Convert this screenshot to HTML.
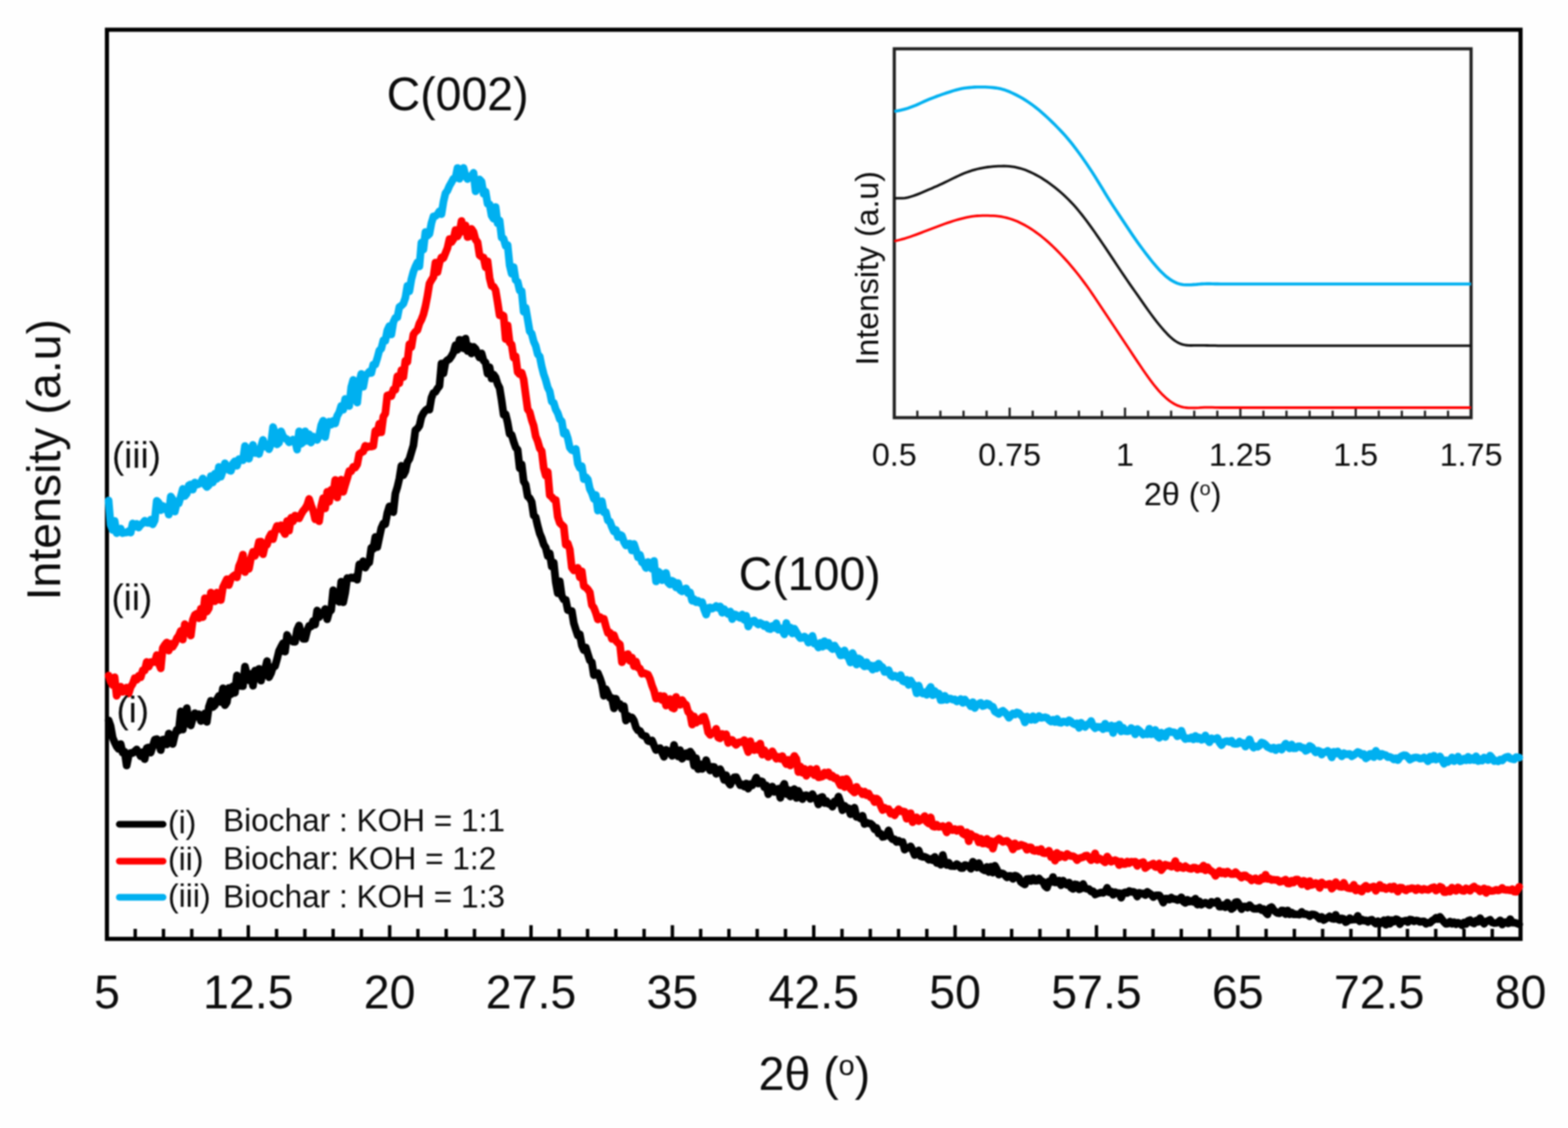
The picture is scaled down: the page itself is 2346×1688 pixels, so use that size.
<!DOCTYPE html>
<html lang="en"><head><meta charset="utf-8"><title>XRD patterns</title>
<style>
html,body{margin:0;padding:0;background:#fff;}
body{width:2346px;height:1688px;overflow:hidden;}
svg{display:block;filter:blur(0.8px);}
text{font-family:"Liberation Sans",Arial,Helvetica,sans-serif;fill:#0c0c0c;}
</style></head><body>
<svg width="2346" height="1688" viewBox="0 0 2346 1688">
<rect width="2346" height="1688" fill="#fefefe"/>

<rect x="160.0" y="44.5" width="2115.0" height="1360.5" fill="none" stroke="#000" stroke-width="6.2"/>
<path d="M202.3,1405.0 v-15 M244.6,1405.0 v-15 M286.9,1405.0 v-15 M329.2,1405.0 v-15 M371.5,1405.0 v-20.5 M413.8,1405.0 v-15 M456.1,1405.0 v-15 M498.4,1405.0 v-15 M540.7,1405.0 v-15 M583.0,1405.0 v-20.5 M625.3,1405.0 v-15 M667.6,1405.0 v-15 M709.9,1405.0 v-15 M752.2,1405.0 v-15 M794.5,1405.0 v-20.5 M836.8,1405.0 v-15 M879.1,1405.0 v-15 M921.4,1405.0 v-15 M963.7,1405.0 v-15 M1006.0,1405.0 v-20.5 M1048.3,1405.0 v-15 M1090.6,1405.0 v-15 M1132.9,1405.0 v-15 M1175.2,1405.0 v-15 M1217.5,1405.0 v-20.5 M1259.8,1405.0 v-15 M1302.1,1405.0 v-15 M1344.4,1405.0 v-15 M1386.7,1405.0 v-15 M1429.0,1405.0 v-20.5 M1471.3,1405.0 v-15 M1513.6,1405.0 v-15 M1555.9,1405.0 v-15 M1598.2,1405.0 v-15 M1640.5,1405.0 v-20.5 M1682.8,1405.0 v-15 M1725.1,1405.0 v-15 M1767.4,1405.0 v-15 M1809.7,1405.0 v-15 M1852.0,1405.0 v-20.5 M1894.3,1405.0 v-15 M1936.6,1405.0 v-15 M1978.9,1405.0 v-15 M2021.2,1405.0 v-15 M2063.5,1405.0 v-20.5 M2105.8,1405.0 v-15 M2148.1,1405.0 v-15 M2190.4,1405.0 v-15 M2232.7,1405.0 v-15" stroke="#000" stroke-width="5.1" fill="none"/>
<g fill="none" stroke-linejoin="round" stroke-linecap="round" stroke-width="11.5">
<path stroke="#00b0f0" d="M162.5,749.0 L165.5,785.2 L168.5,793.1 L171.5,779.5 L174.5,797.9 L177.5,796.0 L180.5,791.0 L183.5,797.8 L186.5,797.0 L189.5,796.8 L192.5,794.8 L195.5,797.0 L198.5,783.3 L201.5,788.4 L204.5,783.9 L207.5,789.4 L210.5,785.4 L213.5,783.0 L216.5,779.3 L219.5,782.2 L222.5,782.5 L225.5,777.7 L228.5,784.7 L231.5,778.7 L234.5,749.4 L237.5,752.4 L240.5,763.5 L243.5,757.0 L246.5,761.9 L249.5,758.4 L252.5,770.1 L255.5,743.0 L258.5,747.5 L261.5,765.6 L264.5,753.4 L267.5,753.2 L270.5,743.2 L273.5,731.6 L276.5,742.3 L279.5,738.6 L282.5,726.2 L285.5,724.9 L288.5,732.7 L291.5,722.1 L294.5,725.3 L297.5,724.3 L300.5,721.6 L303.5,716.0 L306.5,725.3 L309.5,728.8 L312.5,726.0 L315.5,712.4 L318.5,721.9 L321.5,708.8 L324.5,716.7 L327.5,698.8 L330.5,713.3 L333.5,704.5 L336.5,693.2 L339.5,697.7 L342.5,703.4 L345.5,704.7 L348.5,693.5 L351.5,690.2 L354.5,697.1 L357.5,687.0 L360.5,688.0 L363.5,688.8 L366.5,667.4 L369.5,680.8 L372.5,686.5 L375.5,671.8 L378.5,665.8 L381.5,677.9 L384.5,674.4 L387.5,679.4 L390.5,668.4 L393.5,658.2 L396.5,668.5 L399.5,664.8 L402.5,672.3 L405.5,664.4 L408.5,639.1 L411.5,648.6 L414.5,664.9 L417.5,662.5 L420.5,645.4 L423.5,653.0 L426.5,656.1 L429.5,657.3 L432.5,662.0 L435.5,660.4 L438.5,657.8 L441.5,659.3 L444.5,672.8 L447.5,645.5 L450.5,664.2 L453.5,661.6 L456.5,645.5 L459.5,659.8 L462.5,649.7 L465.5,662.3 L468.5,653.3 L471.5,657.0 L474.5,658.4 L477.5,651.8 L480.5,636.6 L483.5,629.5 L486.5,654.0 L489.5,637.4 L492.5,630.9 L495.5,635.5 L498.5,629.8 L501.5,633.7 L504.5,622.3 L507.5,617.2 L510.5,607.4 L513.5,613.1 L516.5,597.1 L519.5,605.8 L522.5,607.6 L525.5,579.3 L528.5,568.6 L531.5,594.2 L534.5,602.4 L537.5,572.5 L540.5,559.6 L543.5,578.8 L546.5,562.4 L549.5,559.7 L552.5,556.2 L555.5,558.2 L558.5,545.7 L561.5,545.4 L564.5,536.1 L567.5,524.6 L570.5,521.6 L573.5,509.6 L576.5,509.8 L579.5,494.4 L582.5,488.0 L585.5,500.5 L588.5,482.2 L591.5,475.6 L594.5,474.8 L597.5,459.5 L600.5,457.3 L603.5,454.4 L606.5,445.6 L609.5,427.8 L612.5,435.9 L615.5,418.0 L618.5,406.8 L621.5,399.0 L624.5,392.8 L627.5,398.7 L630.5,363.1 L633.5,373.4 L636.5,347.3 L639.5,352.7 L642.5,350.0 L645.5,333.9 L648.5,324.0 L651.5,323.4 L654.5,320.9 L657.5,316.0 L660.5,320.5 L663.5,301.8 L666.5,289.1 L669.5,285.1 L672.5,278.0 L675.5,272.8 L678.5,267.4 L681.5,266.3 L684.5,251.4 L687.5,267.6 L690.5,256.5 L693.5,251.2 L696.5,263.1 L699.5,267.9 L702.5,263.7 L705.5,263.7 L708.5,258.6 L711.5,286.2 L714.5,278.0 L717.5,268.6 L720.5,271.9 L723.5,290.1 L726.5,286.7 L729.5,304.9 L732.5,305.8 L735.5,322.7 L738.5,327.3 L741.5,309.8 L744.5,334.3 L747.5,330.0 L750.5,355.7 L753.5,357.2 L756.5,368.0 L759.5,366.7 L762.5,396.9 L765.5,409.5 L768.5,399.7 L771.5,419.0 L774.5,421.6 L777.5,434.6 L780.5,435.7 L783.5,466.6 L786.5,460.5 L789.5,478.0 L792.5,495.8 L795.5,499.2 L798.5,510.9 L801.5,517.6 L804.5,529.9 L807.5,533.4 L810.5,548.3 L813.5,560.0 L816.5,568.7 L819.5,579.7 L822.5,585.8 L825.5,600.9 L828.5,602.9 L831.5,612.8 L834.5,618.3 L837.5,627.3 L840.5,630.4 L843.5,649.2 L846.5,646.7 L849.5,655.8 L852.5,669.9 L855.5,673.5 L858.5,674.7 L861.5,671.8 L864.5,693.8 L867.5,700.4 L870.5,697.6 L873.5,717.0 L876.5,713.9 L879.5,717.4 L882.5,731.7 L885.5,737.6 L888.5,746.5 L891.5,740.8 L894.5,764.1 L897.5,752.5 L900.5,749.9 L903.5,766.5 L906.5,766.5 L909.5,778.9 L912.5,780.6 L915.5,788.7 L918.5,795.3 L921.5,793.0 L924.5,803.8 L927.5,800.2 L930.5,801.7 L933.5,810.9 L936.5,816.3 L939.5,814.0 L942.5,813.4 L945.5,823.8 L948.5,814.1 L951.5,823.0 L954.5,833.9 L957.5,830.3 L960.5,841.4 L963.5,843.3 L966.5,849.9 L969.5,840.9 L972.5,843.8 L975.5,851.3 L978.5,839.4 L981.5,870.0 L984.5,855.1 L987.5,857.5 L990.5,868.2 L993.5,865.2 L996.5,857.3 L999.5,871.8 L1002.5,874.8 L1005.5,869.0 L1008.5,870.9 L1011.5,879.0 L1014.5,872.4 L1017.5,882.9 L1020.5,884.9 L1023.5,882.7 L1026.5,880.4 L1029.5,887.8 L1032.5,886.6 L1035.5,898.9 L1038.5,896.7 L1041.5,901.2 L1044.5,899.1 L1047.5,902.3 L1050.5,900.9 L1053.5,912.0 L1056.5,919.7 L1059.5,910.0 L1062.5,909.0 L1065.5,910.8 L1068.5,909.4 L1071.5,907.0 L1074.5,909.8 L1077.5,907.5 L1080.5,916.9 L1083.5,911.5 L1086.5,916.0 L1089.5,919.0 L1092.5,915.1 L1095.5,926.5 L1098.5,919.3 L1101.5,920.3 L1104.5,923.1 L1107.5,924.7 L1110.5,919.6 L1113.5,927.5 L1116.5,921.5 L1119.5,937.5 L1122.5,931.7 L1125.5,929.5 L1128.5,928.6 L1131.5,932.1 L1134.5,934.5 L1137.5,932.2 L1140.5,933.8 L1143.5,937.1 L1146.5,934.7 L1149.5,940.7 L1152.5,941.4 L1155.5,936.7 L1158.5,939.8 L1161.5,932.5 L1164.5,942.3 L1167.5,939.9 L1170.5,943.2 L1173.5,949.3 L1176.5,932.3 L1179.5,944.3 L1182.5,939.0 L1185.5,947.9 L1188.5,940.8 L1191.5,946.1 L1194.5,951.0 L1197.5,954.9 L1200.5,954.6 L1203.5,952.5 L1206.5,954.6 L1209.5,961.7 L1212.5,958.5 L1215.5,951.6 L1218.5,963.2 L1221.5,963.7 L1224.5,969.0 L1227.5,961.9 L1230.5,967.8 L1233.5,959.4 L1236.5,966.0 L1239.5,961.8 L1242.5,968.2 L1245.5,971.4 L1248.5,965.9 L1251.5,970.9 L1254.5,973.9 L1257.5,980.8 L1260.5,980.4 L1263.5,973.2 L1266.5,981.3 L1269.5,984.0 L1272.5,991.5 L1275.5,977.2 L1278.5,984.1 L1281.5,994.5 L1284.5,985.3 L1287.5,987.0 L1290.5,994.7 L1293.5,997.3 L1296.5,991.0 L1299.5,996.9 L1302.5,995.9 L1305.5,1002.1 L1308.5,996.1 L1311.5,1000.4 L1314.5,993.0 L1317.5,996.6 L1320.5,998.4 L1323.5,1005.4 L1326.5,1005.6 L1329.5,1002.7 L1332.5,1010.8 L1335.5,1012.9 L1338.5,1011.0 L1341.5,1012.3 L1344.5,1014.5 L1347.5,1010.2 L1350.5,1018.9 L1353.5,1020.2 L1356.5,1017.2 L1359.5,1025.0 L1362.5,1018.3 L1365.5,1023.4 L1368.5,1025.8 L1371.5,1037.6 L1374.5,1025.9 L1377.5,1035.8 L1380.5,1037.8 L1383.5,1035.9 L1386.5,1039.7 L1389.5,1032.3 L1392.5,1028.0 L1395.5,1040.3 L1398.5,1033.9 L1401.5,1038.9 L1404.5,1037.7 L1407.5,1047.8 L1410.5,1047.6 L1413.5,1041.2 L1416.5,1047.3 L1419.5,1045.2 L1422.5,1045.4 L1425.5,1047.1 L1428.5,1046.6 L1431.5,1049.6 L1434.5,1048.3 L1437.5,1046.1 L1440.5,1051.8 L1443.5,1046.8 L1446.5,1051.0 L1449.5,1052.3 L1452.5,1057.0 L1455.5,1050.7 L1458.5,1059.5 L1461.5,1054.8 L1464.5,1053.2 L1467.5,1051.7 L1470.5,1056.7 L1473.5,1055.6 L1476.5,1052.6 L1479.5,1053.6 L1482.5,1056.8 L1485.5,1057.6 L1488.5,1064.7 L1491.5,1066.4 L1494.5,1068.4 L1497.5,1065.2 L1500.5,1063.7 L1503.5,1066.2 L1506.5,1069.2 L1509.5,1074.1 L1512.5,1070.8 L1515.5,1067.6 L1518.5,1069.2 L1521.5,1066.1 L1524.5,1067.2 L1527.5,1070.4 L1530.5,1072.7 L1533.5,1081.1 L1536.5,1072.2 L1539.5,1076.0 L1542.5,1077.3 L1545.5,1071.8 L1548.5,1077.3 L1551.5,1074.8 L1554.5,1071.5 L1557.5,1074.2 L1560.5,1073.8 L1563.5,1073.3 L1566.5,1074.2 L1569.5,1077.4 L1572.5,1079.8 L1575.5,1077.0 L1578.5,1080.6 L1581.5,1075.8 L1584.5,1081.2 L1587.5,1081.7 L1590.5,1079.7 L1593.5,1080.0 L1596.5,1081.3 L1599.5,1077.9 L1602.5,1079.9 L1605.5,1082.7 L1608.5,1084.3 L1611.5,1082.3 L1614.5,1089.3 L1617.5,1081.5 L1620.5,1085.8 L1623.5,1087.8 L1626.5,1084.3 L1629.5,1083.3 L1632.5,1079.0 L1635.5,1086.6 L1638.5,1089.7 L1641.5,1087.5 L1644.5,1088.2 L1647.5,1087.7 L1650.5,1091.2 L1653.5,1082.9 L1656.5,1089.7 L1659.5,1089.3 L1662.5,1085.6 L1665.5,1096.9 L1668.5,1086.6 L1671.5,1087.7 L1674.5,1084.3 L1677.5,1094.6 L1680.5,1089.0 L1683.5,1094.1 L1686.5,1094.4 L1689.5,1093.8 L1692.5,1089.4 L1695.5,1091.8 L1698.5,1098.9 L1701.5,1091.0 L1704.5,1093.2 L1707.5,1096.0 L1710.5,1099.3 L1713.5,1097.7 L1716.5,1098.8 L1719.5,1090.5 L1722.5,1098.8 L1725.5,1097.9 L1728.5,1092.3 L1731.5,1101.5 L1734.5,1104.2 L1737.5,1096.3 L1740.5,1098.9 L1743.5,1102.9 L1746.5,1095.3 L1749.5,1094.1 L1752.5,1095.8 L1755.5,1095.8 L1758.5,1096.8 L1761.5,1101.8 L1764.5,1100.0 L1767.5,1093.5 L1770.5,1102.0 L1773.5,1106.0 L1776.5,1104.8 L1779.5,1105.2 L1782.5,1103.5 L1785.5,1106.4 L1788.5,1101.2 L1791.5,1105.7 L1794.5,1103.6 L1797.5,1107.1 L1800.5,1106.0 L1803.5,1100.5 L1806.5,1107.3 L1809.5,1110.8 L1812.5,1104.8 L1815.5,1106.1 L1818.5,1105.7 L1821.5,1104.3 L1824.5,1111.1 L1827.5,1115.2 L1830.5,1110.8 L1833.5,1109.5 L1836.5,1108.9 L1839.5,1110.3 L1842.5,1108.4 L1845.5,1112.8 L1848.5,1113.2 L1851.5,1113.0 L1854.5,1109.8 L1857.5,1112.0 L1860.5,1112.0 L1863.5,1117.3 L1866.5,1113.3 L1869.5,1106.4 L1872.5,1114.3 L1875.5,1118.9 L1878.5,1116.7 L1881.5,1117.6 L1884.5,1115.7 L1887.5,1111.1 L1890.5,1112.2 L1893.5,1114.4 L1896.5,1117.9 L1899.5,1119.3 L1902.5,1120.6 L1905.5,1118.7 L1908.5,1122.6 L1911.5,1119.4 L1914.5,1118.7 L1917.5,1121.9 L1920.5,1117.0 L1923.5,1112.8 L1926.5,1116.8 L1929.5,1120.1 L1932.5,1114.1 L1935.5,1119.8 L1938.5,1119.8 L1941.5,1117.0 L1944.5,1116.7 L1947.5,1119.2 L1950.5,1119.1 L1953.5,1123.6 L1956.5,1122.1 L1959.5,1116.2 L1962.5,1117.9 L1965.5,1122.2 L1968.5,1126.0 L1971.5,1123.3 L1974.5,1124.3 L1977.5,1129.2 L1980.5,1125.7 L1983.5,1125.6 L1986.5,1123.6 L1989.5,1126.6 L1992.5,1133.5 L1995.5,1125.0 L1998.5,1128.0 L2001.5,1124.5 L2004.5,1128.2 L2007.5,1131.9 L2010.5,1127.1 L2013.5,1128.8 L2016.5,1128.5 L2019.5,1128.2 L2022.5,1131.8 L2025.5,1130.1 L2028.5,1127.7 L2031.5,1125.4 L2034.5,1126.6 L2037.5,1129.9 L2040.5,1128.2 L2043.5,1134.9 L2046.5,1133.1 L2049.5,1128.3 L2052.5,1128.1 L2055.5,1133.0 L2058.5,1123.6 L2061.5,1127.8 L2064.5,1132.2 L2067.5,1128.2 L2070.5,1129.4 L2073.5,1130.1 L2076.5,1133.0 L2079.5,1132.6 L2082.5,1134.0 L2085.5,1136.5 L2088.5,1134.7 L2091.5,1137.6 L2094.5,1133.3 L2097.5,1131.3 L2100.5,1130.1 L2103.5,1130.5 L2106.5,1133.1 L2109.5,1136.8 L2112.5,1135.1 L2115.5,1133.9 L2118.5,1133.4 L2121.5,1133.9 L2124.5,1135.3 L2127.5,1135.1 L2130.5,1133.4 L2133.5,1135.8 L2136.5,1139.2 L2139.5,1132.3 L2142.5,1136.3 L2145.5,1130.9 L2148.5,1136.7 L2151.5,1134.8 L2154.5,1132.1 L2157.5,1137.2 L2160.5,1142.9 L2163.5,1137.8 L2166.5,1140.2 L2169.5,1137.7 L2172.5,1133.5 L2175.5,1139.1 L2178.5,1137.0 L2181.5,1132.2 L2184.5,1139.2 L2187.5,1138.2 L2190.5,1135.3 L2193.5,1137.8 L2196.5,1132.5 L2199.5,1137.6 L2202.5,1134.5 L2205.5,1137.5 L2208.5,1131.8 L2211.5,1139.0 L2214.5,1136.1 L2217.5,1138.3 L2220.5,1133.6 L2223.5,1134.6 L2226.5,1137.5 L2229.5,1130.7 L2232.5,1134.2 L2235.5,1139.0 L2238.5,1138.2 L2241.5,1139.4 L2244.5,1136.6 L2247.5,1138.0 L2250.5,1134.8 L2253.5,1133.0 L2256.5,1132.2 L2259.5,1134.9 L2262.5,1135.8 L2265.5,1136.5 L2268.5,1132.9 L2273.0,1133.7"/>
<path stroke="#ff0000" d="M162.5,1011.0 L165.5,1019.9 L168.5,1025.1 L171.5,1013.4 L174.5,1041.3 L177.5,1034.3 L180.5,1027.6 L183.5,1035.3 L186.5,1033.2 L189.5,1028.9 L192.5,1037.9 L195.5,1028.0 L198.5,1023.4 L201.5,1014.8 L204.5,1017.5 L207.5,1011.1 L210.5,1013.6 L213.5,1003.3 L216.5,1003.3 L219.5,990.6 L222.5,997.8 L225.5,990.7 L228.5,990.6 L231.5,990.8 L234.5,980.3 L237.5,992.6 L240.5,1000.2 L243.5,969.8 L246.5,965.1 L249.5,961.4 L252.5,973.6 L255.5,963.3 L258.5,967.9 L261.5,962.9 L264.5,955.3 L267.5,951.3 L270.5,944.0 L273.5,957.1 L276.5,934.0 L279.5,937.8 L282.5,940.8 L285.5,951.1 L288.5,927.6 L291.5,920.2 L294.5,918.3 L297.5,925.2 L300.5,910.9 L303.5,923.4 L306.5,895.2 L309.5,915.3 L312.5,910.3 L315.5,886.7 L318.5,895.2 L321.5,899.8 L324.5,886.8 L327.5,890.2 L330.5,898.0 L333.5,879.0 L336.5,872.6 L339.5,866.7 L342.5,875.6 L345.5,865.8 L348.5,862.6 L351.5,860.4 L354.5,864.1 L357.5,847.5 L360.5,840.3 L363.5,829.9 L366.5,856.1 L369.5,843.7 L372.5,851.3 L375.5,835.2 L378.5,825.7 L381.5,831.8 L384.5,823.7 L387.5,810.7 L390.5,810.5 L393.5,829.4 L396.5,816.4 L399.5,815.1 L402.5,804.7 L405.5,799.1 L408.5,806.8 L411.5,794.6 L414.5,786.9 L417.5,791.5 L420.5,785.9 L423.5,794.2 L426.5,799.3 L429.5,779.7 L432.5,794.1 L435.5,774.8 L438.5,780.2 L441.5,771.4 L444.5,775.2 L447.5,775.7 L450.5,769.6 L453.5,764.5 L456.5,761.1 L459.5,755.9 L462.5,746.6 L465.5,756.3 L468.5,763.8 L471.5,777.1 L474.5,768.7 L477.5,780.1 L480.5,757.3 L483.5,745.5 L486.5,760.8 L489.5,736.1 L492.5,750.8 L495.5,733.0 L498.5,740.3 L501.5,718.3 L504.5,744.5 L507.5,725.7 L510.5,717.8 L513.5,736.0 L516.5,725.5 L519.5,715.9 L522.5,705.0 L525.5,705.2 L528.5,698.5 L531.5,699.6 L534.5,694.9 L537.5,679.2 L540.5,677.2 L543.5,675.7 L546.5,667.1 L549.5,669.1 L552.5,667.8 L555.5,668.3 L558.5,667.4 L561.5,644.7 L564.5,648.3 L567.5,634.0 L570.5,646.9 L573.5,623.6 L576.5,618.8 L579.5,591.7 L582.5,590.9 L585.5,592.7 L588.5,583.1 L591.5,583.3 L594.5,563.1 L597.5,573.5 L600.5,554.0 L603.5,564.3 L606.5,539.8 L609.5,541.6 L612.5,514.9 L615.5,519.4 L618.5,500.6 L621.5,496.4 L624.5,494.0 L627.5,484.1 L630.5,478.4 L633.5,470.5 L636.5,458.5 L639.5,443.2 L642.5,424.6 L645.5,419.1 L648.5,414.4 L651.5,392.9 L654.5,407.3 L657.5,393.2 L660.5,385.1 L663.5,386.2 L666.5,378.6 L669.5,371.1 L672.5,357.7 L675.5,362.2 L678.5,357.7 L681.5,344.2 L684.5,353.7 L687.5,348.0 L690.5,330.7 L693.5,346.3 L696.5,337.2 L699.5,354.7 L702.5,353.7 L705.5,342.6 L708.5,347.2 L711.5,358.5 L714.5,362.4 L717.5,382.0 L720.5,384.3 L723.5,385.4 L726.5,399.9 L729.5,391.0 L732.5,415.8 L735.5,427.8 L738.5,428.9 L741.5,434.1 L744.5,452.2 L747.5,471.9 L750.5,471.0 L753.5,472.8 L756.5,507.4 L759.5,487.0 L762.5,512.7 L765.5,515.6 L768.5,535.3 L771.5,533.1 L774.5,556.8 L777.5,560.0 L780.5,557.7 L783.5,567.9 L786.5,590.5 L789.5,612.4 L792.5,616.7 L795.5,628.3 L798.5,637.2 L801.5,652.8 L804.5,660.2 L807.5,670.9 L810.5,675.1 L813.5,700.3 L816.5,711.8 L819.5,706.1 L822.5,741.1 L825.5,743.6 L828.5,747.3 L831.5,748.3 L834.5,773.5 L837.5,782.4 L840.5,785.4 L843.5,788.2 L846.5,815.3 L849.5,813.2 L852.5,822.2 L855.5,849.2 L858.5,853.5 L861.5,852.2 L864.5,849.8 L867.5,863.9 L870.5,854.9 L873.5,877.2 L876.5,879.0 L879.5,882.1 L882.5,886.5 L885.5,905.3 L888.5,909.4 L891.5,917.3 L894.5,927.0 L897.5,923.2 L900.5,925.7 L903.5,926.0 L906.5,937.3 L909.5,947.2 L912.5,946.6 L915.5,956.1 L918.5,950.3 L921.5,958.9 L924.5,962.1 L927.5,964.4 L930.5,991.1 L933.5,985.7 L936.5,980.1 L939.5,978.7 L942.5,989.0 L945.5,983.9 L948.5,996.9 L951.5,989.9 L954.5,999.1 L957.5,1000.5 L960.5,1008.2 L963.5,1007.1 L966.5,1008.4 L969.5,1009.5 L972.5,1015.9 L975.5,1025.9 L978.5,1033.3 L981.5,1045.4 L984.5,1045.0 L987.5,1041.3 L990.5,1047.7 L993.5,1041.8 L996.5,1055.8 L999.5,1053.7 L1002.5,1046.0 L1005.5,1059.0 L1008.5,1060.4 L1011.5,1042.9 L1014.5,1052.9 L1017.5,1054.7 L1020.5,1047.5 L1023.5,1052.5 L1026.5,1054.7 L1029.5,1065.2 L1032.5,1068.3 L1035.5,1084.3 L1038.5,1072.0 L1041.5,1081.5 L1044.5,1076.9 L1047.5,1078.8 L1050.5,1073.3 L1053.5,1072.2 L1056.5,1081.4 L1059.5,1096.0 L1062.5,1099.7 L1065.5,1096.6 L1068.5,1096.7 L1071.5,1090.6 L1074.5,1103.7 L1077.5,1105.0 L1080.5,1098.2 L1083.5,1102.3 L1086.5,1098.8 L1089.5,1111.8 L1092.5,1107.9 L1095.5,1107.2 L1098.5,1111.9 L1101.5,1114.7 L1104.5,1111.2 L1107.5,1110.5 L1110.5,1110.5 L1113.5,1107.4 L1116.5,1116.8 L1119.5,1125.5 L1122.5,1109.2 L1125.5,1120.3 L1128.5,1122.5 L1131.5,1116.1 L1134.5,1122.3 L1137.5,1112.7 L1140.5,1129.3 L1143.5,1122.4 L1146.5,1127.6 L1149.5,1132.8 L1152.5,1129.7 L1155.5,1124.3 L1158.5,1129.7 L1161.5,1135.4 L1164.5,1132.4 L1167.5,1135.7 L1170.5,1131.5 L1173.5,1138.0 L1176.5,1143.5 L1179.5,1137.0 L1182.5,1145.5 L1185.5,1137.0 L1188.5,1131.2 L1191.5,1135.7 L1194.5,1155.4 L1197.5,1146.9 L1200.5,1156.4 L1203.5,1150.4 L1206.5,1160.9 L1209.5,1156.4 L1212.5,1151.0 L1215.5,1155.5 L1218.5,1160.1 L1221.5,1150.6 L1224.5,1163.3 L1227.5,1162.8 L1230.5,1162.0 L1233.5,1156.1 L1236.5,1160.1 L1239.5,1155.7 L1242.5,1162.5 L1245.5,1160.8 L1248.5,1164.8 L1251.5,1164.1 L1254.5,1169.6 L1257.5,1175.3 L1260.5,1166.4 L1263.5,1177.9 L1266.5,1165.5 L1269.5,1170.0 L1272.5,1180.5 L1275.5,1183.3 L1278.5,1186.1 L1281.5,1177.4 L1284.5,1183.5 L1287.5,1183.6 L1290.5,1188.6 L1293.5,1184.6 L1296.5,1190.1 L1299.5,1187.2 L1302.5,1193.2 L1305.5,1194.0 L1308.5,1200.2 L1311.5,1194.9 L1314.5,1197.5 L1317.5,1205.4 L1320.5,1212.3 L1323.5,1208.7 L1326.5,1211.0 L1329.5,1210.7 L1332.5,1217.7 L1335.5,1215.6 L1338.5,1220.2 L1341.5,1215.0 L1344.5,1211.0 L1347.5,1214.1 L1350.5,1214.3 L1353.5,1214.6 L1356.5,1225.2 L1359.5,1223.9 L1362.5,1216.9 L1365.5,1230.4 L1368.5,1226.3 L1371.5,1223.1 L1374.5,1228.8 L1377.5,1227.2 L1380.5,1224.9 L1383.5,1221.2 L1386.5,1229.9 L1389.5,1232.4 L1392.5,1223.1 L1395.5,1236.4 L1398.5,1237.3 L1401.5,1234.1 L1404.5,1237.4 L1407.5,1237.1 L1410.5,1236.1 L1413.5,1238.8 L1416.5,1245.7 L1419.5,1235.2 L1422.5,1241.7 L1425.5,1242.3 L1428.5,1240.6 L1431.5,1243.4 L1434.5,1241.2 L1437.5,1241.1 L1440.5,1247.6 L1443.5,1249.3 L1446.5,1245.5 L1449.5,1258.9 L1452.5,1248.0 L1455.5,1251.5 L1458.5,1251.9 L1461.5,1253.1 L1464.5,1260.6 L1467.5,1255.1 L1470.5,1262.2 L1473.5,1262.1 L1476.5,1255.3 L1479.5,1263.9 L1482.5,1258.6 L1485.5,1270.1 L1488.5,1259.3 L1491.5,1257.6 L1494.5,1254.9 L1497.5,1257.4 L1500.5,1259.9 L1503.5,1258.7 L1506.5,1258.3 L1509.5,1261.0 L1512.5,1263.8 L1515.5,1271.2 L1518.5,1261.9 L1521.5,1266.8 L1524.5,1265.9 L1527.5,1264.1 L1530.5,1265.0 L1533.5,1266.2 L1536.5,1271.6 L1539.5,1268.0 L1542.5,1267.9 L1545.5,1272.7 L1548.5,1273.5 L1551.5,1271.8 L1554.5,1274.2 L1557.5,1270.5 L1560.5,1276.3 L1563.5,1277.0 L1566.5,1275.1 L1569.5,1273.1 L1572.5,1282.6 L1575.5,1278.7 L1578.5,1288.0 L1581.5,1276.2 L1584.5,1283.3 L1587.5,1279.2 L1590.5,1281.3 L1593.5,1283.0 L1596.5,1277.8 L1599.5,1279.9 L1602.5,1281.1 L1605.5,1281.2 L1608.5,1282.9 L1611.5,1287.3 L1614.5,1284.3 L1617.5,1283.6 L1620.5,1282.7 L1623.5,1280.7 L1626.5,1280.3 L1629.5,1283.6 L1632.5,1287.3 L1635.5,1283.4 L1638.5,1276.9 L1641.5,1287.0 L1644.5,1284.3 L1647.5,1285.8 L1650.5,1288.1 L1653.5,1290.5 L1656.5,1281.8 L1659.5,1285.7 L1662.5,1289.6 L1665.5,1288.2 L1668.5,1287.1 L1671.5,1288.5 L1674.5,1294.6 L1677.5,1289.3 L1680.5,1292.9 L1683.5,1293.0 L1686.5,1289.2 L1689.5,1291.8 L1692.5,1289.5 L1695.5,1290.0 L1698.5,1289.5 L1701.5,1295.7 L1704.5,1291.8 L1707.5,1291.2 L1710.5,1290.0 L1713.5,1299.1 L1716.5,1296.7 L1719.5,1294.8 L1722.5,1294.0 L1725.5,1292.2 L1728.5,1297.4 L1731.5,1297.2 L1734.5,1292.1 L1737.5,1302.2 L1740.5,1298.5 L1743.5,1293.9 L1746.5,1295.0 L1749.5,1295.4 L1752.5,1297.0 L1755.5,1295.5 L1758.5,1288.5 L1761.5,1299.0 L1764.5,1295.5 L1767.5,1298.2 L1770.5,1299.1 L1773.5,1296.3 L1776.5,1298.5 L1779.5,1299.8 L1782.5,1300.2 L1785.5,1298.2 L1788.5,1298.5 L1791.5,1301.2 L1794.5,1299.4 L1797.5,1300.4 L1800.5,1295.3 L1803.5,1302.5 L1806.5,1297.7 L1809.5,1301.7 L1812.5,1303.6 L1815.5,1305.5 L1818.5,1310.7 L1821.5,1307.2 L1824.5,1303.3 L1827.5,1306.9 L1830.5,1304.9 L1833.5,1307.7 L1836.5,1304.2 L1839.5,1306.8 L1842.5,1308.1 L1845.5,1308.0 L1848.5,1305.1 L1851.5,1308.2 L1854.5,1310.2 L1857.5,1313.5 L1860.5,1310.0 L1863.5,1310.1 L1866.5,1313.0 L1869.5,1313.8 L1872.5,1317.5 L1875.5,1315.7 L1878.5,1314.4 L1881.5,1317.9 L1884.5,1318.3 L1887.5,1313.4 L1890.5,1315.2 L1893.5,1309.0 L1896.5,1315.3 L1899.5,1314.8 L1902.5,1316.9 L1905.5,1316.3 L1908.5,1316.8 L1911.5,1316.8 L1914.5,1319.8 L1917.5,1319.0 L1920.5,1317.9 L1923.5,1316.2 L1926.5,1322.0 L1929.5,1322.2 L1932.5,1317.9 L1935.5,1320.8 L1938.5,1316.2 L1941.5,1316.3 L1944.5,1318.7 L1947.5,1323.5 L1950.5,1318.0 L1953.5,1319.4 L1956.5,1326.3 L1959.5,1318.4 L1962.5,1324.3 L1965.5,1323.4 L1968.5,1321.3 L1971.5,1322.4 L1974.5,1328.7 L1977.5,1320.5 L1980.5,1323.1 L1983.5,1323.9 L1986.5,1323.3 L1989.5,1322.4 L1992.5,1329.9 L1995.5,1326.9 L1998.5,1320.1 L2001.5,1324.2 L2004.5,1326.8 L2007.5,1327.2 L2010.5,1320.9 L2013.5,1327.4 L2016.5,1328.8 L2019.5,1329.4 L2022.5,1329.4 L2025.5,1324.1 L2028.5,1332.5 L2031.5,1329.2 L2034.5,1332.4 L2037.5,1334.2 L2040.5,1328.0 L2043.5,1325.5 L2046.5,1330.2 L2049.5,1327.9 L2052.5,1327.6 L2055.5,1326.5 L2058.5,1333.0 L2061.5,1328.6 L2064.5,1324.2 L2067.5,1329.1 L2070.5,1327.5 L2073.5,1330.5 L2076.5,1329.1 L2079.5,1327.3 L2082.5,1330.7 L2085.5,1326.5 L2088.5,1330.7 L2091.5,1334.3 L2094.5,1328.3 L2097.5,1328.4 L2100.5,1330.9 L2103.5,1332.5 L2106.5,1330.3 L2109.5,1330.0 L2112.5,1329.1 L2115.5,1329.7 L2118.5,1332.3 L2121.5,1329.2 L2124.5,1330.5 L2127.5,1331.9 L2130.5,1330.0 L2133.5,1331.2 L2136.5,1331.7 L2139.5,1330.3 L2142.5,1328.6 L2145.5,1327.7 L2148.5,1332.7 L2151.5,1330.8 L2154.5,1326.9 L2157.5,1328.3 L2160.5,1335.0 L2163.5,1334.9 L2166.5,1332.2 L2169.5,1334.3 L2172.5,1328.3 L2175.5,1331.3 L2178.5,1333.1 L2181.5,1327.9 L2184.5,1330.1 L2187.5,1332.9 L2190.5,1333.2 L2193.5,1329.3 L2196.5,1330.8 L2199.5,1333.0 L2202.5,1328.5 L2205.5,1326.6 L2208.5,1329.9 L2211.5,1330.0 L2214.5,1334.0 L2217.5,1331.6 L2220.5,1329.4 L2223.5,1336.2 L2226.5,1330.9 L2229.5,1333.2 L2232.5,1333.2 L2235.5,1332.9 L2238.5,1331.5 L2241.5,1332.6 L2244.5,1331.4 L2247.5,1328.7 L2250.5,1331.4 L2253.5,1331.7 L2256.5,1331.8 L2259.5,1332.4 L2262.5,1330.7 L2265.5,1334.3 L2268.5,1334.6 L2273.0,1327.0"/>
<path stroke="#000" d="M162.5,1078.0 L165.5,1086.5 L168.5,1103.6 L171.5,1110.8 L174.5,1117.1 L177.5,1120.8 L180.5,1113.4 L183.5,1126.4 L186.5,1124.9 L189.5,1145.6 L192.5,1130.9 L195.5,1126.8 L198.5,1126.9 L201.5,1124.2 L204.5,1121.6 L207.5,1126.1 L210.5,1131.8 L213.5,1125.5 L216.5,1136.1 L219.5,1119.5 L222.5,1118.4 L225.5,1126.3 L228.5,1116.7 L231.5,1106.8 L234.5,1106.0 L237.5,1111.7 L240.5,1122.6 L243.5,1106.8 L246.5,1106.3 L249.5,1114.1 L252.5,1097.7 L255.5,1100.5 L258.5,1113.3 L261.5,1100.5 L264.5,1092.1 L267.5,1093.1 L270.5,1064.6 L273.5,1091.7 L276.5,1074.1 L279.5,1059.7 L282.5,1082.4 L285.5,1085.7 L288.5,1075.2 L291.5,1067.2 L294.5,1072.6 L297.5,1068.8 L300.5,1079.0 L303.5,1073.2 L306.5,1067.6 L309.5,1080.2 L312.5,1057.8 L315.5,1048.7 L318.5,1058.1 L321.5,1055.3 L324.5,1046.6 L327.5,1041.4 L330.5,1050.5 L333.5,1030.0 L336.5,1055.2 L339.5,1050.7 L342.5,1029.4 L345.5,1039.0 L348.5,1026.9 L351.5,1036.7 L354.5,1010.7 L357.5,1016.6 L360.5,1026.6 L363.5,1026.8 L366.5,997.5 L369.5,1009.3 L372.5,1018.0 L375.5,1008.4 L378.5,1026.2 L381.5,1003.5 L384.5,1014.4 L387.5,1000.9 L390.5,1018.6 L393.5,1005.8 L396.5,1001.8 L399.5,989.3 L402.5,1013.5 L405.5,1007.5 L408.5,998.0 L411.5,997.0 L414.5,986.4 L417.5,974.0 L420.5,968.0 L423.5,962.5 L426.5,975.1 L429.5,950.1 L432.5,956.4 L435.5,957.8 L438.5,960.3 L441.5,960.4 L444.5,942.6 L447.5,935.9 L450.5,947.6 L453.5,955.9 L456.5,956.1 L459.5,944.0 L462.5,936.5 L465.5,937.4 L468.5,929.3 L471.5,934.8 L474.5,913.6 L477.5,923.5 L480.5,917.2 L483.5,917.8 L486.5,911.3 L489.5,926.7 L492.5,915.6 L495.5,913.3 L498.5,883.3 L501.5,892.9 L504.5,891.0 L507.5,900.7 L510.5,870.4 L513.5,901.2 L516.5,887.1 L519.5,865.1 L522.5,865.7 L525.5,864.0 L528.5,865.3 L531.5,863.3 L534.5,867.6 L537.5,844.6 L540.5,847.9 L543.5,839.8 L546.5,849.4 L549.5,844.1 L552.5,841.6 L555.5,819.8 L558.5,821.5 L561.5,803.6 L564.5,818.7 L567.5,804.3 L570.5,790.3 L573.5,783.5 L576.5,784.4 L579.5,767.9 L582.5,757.8 L585.5,759.8 L588.5,766.4 L591.5,738.6 L594.5,729.0 L597.5,716.2 L600.5,697.1 L603.5,711.1 L606.5,705.2 L609.5,691.6 L612.5,686.8 L615.5,676.7 L618.5,666.7 L621.5,643.6 L624.5,641.4 L627.5,637.2 L630.5,624.1 L633.5,618.3 L636.5,614.4 L639.5,612.1 L642.5,613.1 L645.5,595.2 L648.5,588.1 L651.5,586.4 L654.5,581.3 L657.5,577.6 L660.5,544.0 L663.5,558.7 L666.5,541.9 L669.5,539.0 L672.5,537.2 L675.5,533.0 L678.5,527.4 L681.5,516.5 L684.5,523.4 L687.5,508.4 L690.5,509.3 L693.5,521.3 L696.5,506.7 L699.5,525.3 L702.5,517.9 L705.5,529.0 L708.5,519.1 L711.5,522.1 L714.5,529.2 L717.5,535.1 L720.5,528.8 L723.5,539.8 L726.5,542.5 L729.5,559.3 L732.5,549.4 L735.5,566.5 L738.5,560.6 L741.5,564.9 L744.5,574.6 L747.5,580.6 L750.5,599.1 L753.5,620.7 L756.5,619.8 L759.5,632.4 L762.5,649.5 L765.5,650.6 L768.5,660.8 L771.5,669.5 L774.5,673.2 L777.5,700.7 L780.5,694.9 L783.5,720.2 L786.5,725.3 L789.5,742.7 L792.5,745.4 L795.5,751.1 L798.5,771.3 L801.5,774.2 L804.5,787.1 L807.5,798.2 L810.5,805.3 L813.5,814.8 L816.5,819.6 L819.5,832.1 L822.5,827.9 L825.5,847.8 L828.5,841.9 L831.5,870.9 L834.5,887.7 L837.5,870.0 L840.5,891.7 L843.5,897.3 L846.5,897.6 L849.5,912.9 L852.5,913.8 L855.5,914.3 L858.5,932.5 L861.5,942.0 L864.5,951.1 L867.5,949.2 L870.5,966.0 L873.5,973.0 L876.5,968.9 L879.5,978.7 L882.5,988.3 L885.5,991.0 L888.5,1010.4 L891.5,1007.9 L894.5,1007.3 L897.5,1014.4 L900.5,1023.3 L903.5,1041.2 L906.5,1031.3 L909.5,1037.7 L912.5,1044.2 L915.5,1044.4 L918.5,1060.0 L921.5,1045.6 L924.5,1054.4 L927.5,1053.6 L930.5,1060.9 L933.5,1056.7 L936.5,1078.3 L939.5,1071.2 L942.5,1075.3 L945.5,1073.5 L948.5,1078.3 L951.5,1088.5 L954.5,1092.9 L957.5,1093.7 L960.5,1099.5 L963.5,1101.3 L966.5,1101.7 L969.5,1108.9 L972.5,1109.5 L975.5,1108.0 L978.5,1115.5 L981.5,1122.4 L984.5,1120.3 L987.5,1119.5 L990.5,1126.0 L993.5,1132.6 L996.5,1122.1 L999.5,1123.7 L1002.5,1124.0 L1005.5,1131.1 L1008.5,1114.8 L1011.5,1126.7 L1014.5,1132.0 L1017.5,1122.6 L1020.5,1135.4 L1023.5,1131.5 L1026.5,1127.1 L1029.5,1132.2 L1032.5,1124.7 L1035.5,1128.9 L1038.5,1146.0 L1041.5,1134.5 L1044.5,1151.0 L1047.5,1143.5 L1050.5,1150.7 L1053.5,1147.2 L1056.5,1137.4 L1059.5,1147.6 L1062.5,1152.9 L1065.5,1147.4 L1068.5,1147.8 L1071.5,1157.9 L1074.5,1154.5 L1077.5,1151.1 L1080.5,1157.9 L1083.5,1167.1 L1086.5,1160.0 L1089.5,1170.2 L1092.5,1174.4 L1095.5,1168.2 L1098.5,1163.3 L1101.5,1162.9 L1104.5,1169.5 L1107.5,1175.1 L1110.5,1173.9 L1113.5,1177.2 L1116.5,1172.4 L1119.5,1180.2 L1122.5,1173.3 L1125.5,1175.4 L1128.5,1170.3 L1131.5,1163.5 L1134.5,1172.5 L1137.5,1168.8 L1140.5,1169.6 L1143.5,1178.1 L1146.5,1175.3 L1149.5,1188.6 L1152.5,1182.3 L1155.5,1177.0 L1158.5,1185.0 L1161.5,1184.1 L1164.5,1180.3 L1167.5,1194.0 L1170.5,1178.1 L1173.5,1172.9 L1176.5,1188.3 L1179.5,1182.1 L1182.5,1192.0 L1185.5,1182.7 L1188.5,1180.8 L1191.5,1194.1 L1194.5,1183.4 L1197.5,1189.9 L1200.5,1195.9 L1203.5,1190.4 L1206.5,1189.9 L1209.5,1191.8 L1212.5,1195.6 L1215.5,1188.3 L1218.5,1194.6 L1221.5,1195.0 L1224.5,1203.8 L1227.5,1193.5 L1230.5,1192.6 L1233.5,1201.7 L1236.5,1198.6 L1239.5,1202.9 L1242.5,1202.8 L1245.5,1207.3 L1248.5,1199.1 L1251.5,1201.7 L1254.5,1192.0 L1257.5,1200.4 L1260.5,1212.5 L1263.5,1205.7 L1266.5,1208.9 L1269.5,1209.4 L1272.5,1218.4 L1275.5,1217.5 L1278.5,1208.6 L1281.5,1222.5 L1284.5,1222.0 L1287.5,1225.1 L1290.5,1220.7 L1293.5,1233.1 L1296.5,1230.9 L1299.5,1232.1 L1302.5,1232.5 L1305.5,1234.9 L1308.5,1241.1 L1311.5,1239.0 L1314.5,1247.2 L1317.5,1247.5 L1320.5,1252.4 L1323.5,1251.8 L1326.5,1249.1 L1329.5,1242.6 L1332.5,1252.5 L1335.5,1256.1 L1338.5,1256.0 L1341.5,1260.0 L1344.5,1258.1 L1347.5,1260.4 L1350.5,1260.1 L1353.5,1271.5 L1356.5,1269.2 L1359.5,1268.6 L1362.5,1266.6 L1365.5,1272.3 L1368.5,1279.6 L1371.5,1276.7 L1374.5,1272.6 L1377.5,1281.3 L1380.5,1282.2 L1383.5,1282.1 L1386.5,1283.5 L1389.5,1286.6 L1392.5,1285.4 L1395.5,1287.3 L1398.5,1282.2 L1401.5,1291.5 L1404.5,1287.0 L1407.5,1294.1 L1410.5,1279.5 L1413.5,1291.4 L1416.5,1294.4 L1419.5,1291.0 L1422.5,1296.1 L1425.5,1296.0 L1428.5,1296.2 L1431.5,1293.1 L1434.5,1295.0 L1437.5,1298.9 L1440.5,1299.1 L1443.5,1294.5 L1446.5,1295.1 L1449.5,1296.2 L1452.5,1300.1 L1455.5,1289.6 L1458.5,1292.3 L1461.5,1298.3 L1464.5,1291.5 L1467.5,1298.1 L1470.5,1301.0 L1473.5,1302.5 L1476.5,1297.3 L1479.5,1305.0 L1482.5,1296.9 L1485.5,1305.9 L1488.5,1295.6 L1491.5,1301.1 L1494.5,1308.8 L1497.5,1306.7 L1500.5,1307.1 L1503.5,1309.6 L1506.5,1313.0 L1509.5,1310.8 L1512.5,1310.8 L1515.5,1315.2 L1518.5,1310.3 L1521.5,1311.3 L1524.5,1313.8 L1527.5,1319.9 L1530.5,1322.0 L1533.5,1323.6 L1536.5,1315.4 L1539.5,1315.1 L1542.5,1318.5 L1545.5,1314.1 L1548.5,1318.1 L1551.5,1318.1 L1554.5,1314.4 L1557.5,1318.1 L1560.5,1319.3 L1563.5,1325.8 L1566.5,1328.3 L1569.5,1319.1 L1572.5,1319.7 L1575.5,1312.4 L1578.5,1320.6 L1581.5,1320.3 L1584.5,1317.8 L1587.5,1324.8 L1590.5,1317.8 L1593.5,1322.0 L1596.5,1324.3 L1599.5,1320.7 L1602.5,1328.4 L1605.5,1330.2 L1608.5,1323.3 L1611.5,1323.9 L1614.5,1330.9 L1617.5,1329.6 L1620.5,1322.8 L1623.5,1329.3 L1626.5,1330.1 L1629.5,1330.5 L1632.5,1334.2 L1635.5,1333.7 L1638.5,1338.6 L1641.5,1337.2 L1644.5,1336.5 L1647.5,1335.5 L1650.5,1336.2 L1653.5,1334.3 L1656.5,1328.6 L1659.5,1335.3 L1662.5,1333.9 L1665.5,1339.1 L1668.5,1335.1 L1671.5,1336.7 L1674.5,1336.4 L1677.5,1343.4 L1680.5,1336.5 L1683.5,1335.2 L1686.5,1336.4 L1689.5,1333.4 L1692.5,1334.7 L1695.5,1334.4 L1698.5,1335.9 L1701.5,1341.7 L1704.5,1335.9 L1707.5,1337.5 L1710.5,1336.9 L1713.5,1339.5 L1716.5,1334.6 L1719.5,1336.5 L1722.5,1338.8 L1725.5,1342.5 L1728.5,1340.0 L1731.5,1339.8 L1734.5,1339.7 L1737.5,1344.4 L1740.5,1350.8 L1743.5,1344.7 L1746.5,1344.8 L1749.5,1346.2 L1752.5,1343.1 L1755.5,1345.2 L1758.5,1345.4 L1761.5,1347.0 L1764.5,1346.0 L1767.5,1342.7 L1770.5,1349.2 L1773.5,1351.2 L1776.5,1346.4 L1779.5,1349.3 L1782.5,1348.1 L1785.5,1349.8 L1788.5,1344.7 L1791.5,1353.7 L1794.5,1348.8 L1797.5,1353.9 L1800.5,1351.8 L1803.5,1350.7 L1806.5,1352.5 L1809.5,1354.6 L1812.5,1349.6 L1815.5,1350.9 L1818.5,1351.2 L1821.5,1348.6 L1824.5,1356.8 L1827.5,1356.7 L1830.5,1354.2 L1833.5,1357.7 L1836.5,1350.7 L1839.5,1355.6 L1842.5,1360.3 L1845.5,1358.2 L1848.5,1350.1 L1851.5,1349.7 L1854.5,1354.6 L1857.5,1360.5 L1860.5,1356.5 L1863.5,1356.6 L1866.5,1358.3 L1869.5,1354.5 L1872.5,1357.7 L1875.5,1359.9 L1878.5,1359.7 L1881.5,1360.0 L1884.5,1358.2 L1887.5,1361.8 L1890.5,1360.3 L1893.5,1365.1 L1896.5,1368.4 L1899.5,1358.8 L1902.5,1357.2 L1905.5,1361.9 L1908.5,1364.4 L1911.5,1366.4 L1914.5,1366.8 L1917.5,1362.5 L1920.5,1362.7 L1923.5,1368.0 L1926.5,1362.4 L1929.5,1368.2 L1932.5,1365.5 L1935.5,1368.3 L1938.5,1368.1 L1941.5,1368.4 L1944.5,1368.7 L1947.5,1364.6 L1950.5,1368.1 L1953.5,1367.8 L1956.5,1368.7 L1959.5,1371.2 L1962.5,1368.3 L1965.5,1368.4 L1968.5,1369.6 L1971.5,1371.8 L1974.5,1375.1 L1977.5,1371.9 L1980.5,1376.9 L1983.5,1374.9 L1986.5,1373.2 L1989.5,1371.1 L1992.5,1374.6 L1995.5,1375.2 L1998.5,1369.0 L2001.5,1375.7 L2004.5,1376.8 L2007.5,1374.2 L2010.5,1375.0 L2013.5,1380.1 L2016.5,1378.2 L2019.5,1374.0 L2022.5,1376.4 L2025.5,1376.1 L2028.5,1376.1 L2031.5,1370.6 L2034.5,1378.7 L2037.5,1375.8 L2040.5,1377.8 L2043.5,1377.2 L2046.5,1379.6 L2049.5,1377.1 L2052.5,1376.3 L2055.5,1379.8 L2058.5,1382.2 L2061.5,1378.4 L2064.5,1382.2 L2067.5,1379.9 L2070.5,1377.1 L2073.5,1384.0 L2076.5,1376.2 L2079.5,1382.4 L2082.5,1377.0 L2085.5,1379.2 L2088.5,1375.5 L2091.5,1376.5 L2094.5,1383.0 L2097.5,1378.8 L2100.5,1378.4 L2103.5,1377.6 L2106.5,1379.9 L2109.5,1376.0 L2112.5,1376.7 L2115.5,1378.8 L2118.5,1377.4 L2121.5,1378.0 L2124.5,1379.5 L2127.5,1379.0 L2130.5,1378.7 L2133.5,1382.4 L2136.5,1380.7 L2139.5,1381.0 L2142.5,1377.9 L2145.5,1376.3 L2148.5,1373.4 L2151.5,1375.5 L2154.5,1372.0 L2157.5,1375.9 L2160.5,1379.7 L2163.5,1382.6 L2166.5,1382.1 L2169.5,1379.1 L2172.5,1382.5 L2175.5,1379.9 L2178.5,1383.2 L2181.5,1380.7 L2184.5,1382.1 L2187.5,1384.8 L2190.5,1380.4 L2193.5,1382.7 L2196.5,1377.9 L2199.5,1376.9 L2202.5,1380.6 L2205.5,1381.8 L2208.5,1377.6 L2211.5,1379.6 L2214.5,1374.0 L2217.5,1378.8 L2220.5,1382.4 L2223.5,1378.8 L2226.5,1378.0 L2229.5,1376.5 L2232.5,1380.4 L2235.5,1381.4 L2238.5,1381.1 L2241.5,1380.3 L2244.5,1377.2 L2247.5,1383.6 L2250.5,1379.9 L2253.5,1379.9 L2256.5,1381.8 L2259.5,1375.4 L2262.5,1380.8 L2265.5,1380.7 L2268.5,1381.4 L2273.0,1383.2"/>
</g>
<g font-size="69.5" text-anchor="middle">
<text x="160.0" y="1509">5</text>
<text x="371.5" y="1509">12.5</text>
<text x="583.0" y="1509">20</text>
<text x="794.5" y="1509">27.5</text>
<text x="1006.0" y="1509">35</text>
<text x="1217.5" y="1509">42.5</text>
<text x="1429.0" y="1509">50</text>
<text x="1640.5" y="1509">57.5</text>
<text x="1852.0" y="1509">65</text>
<text x="2063.5" y="1509">72.5</text>
<text x="2275.0" y="1509">80</text>
</g>
<text x="1218.5" y="1631" font-size="69.5" text-anchor="middle">2θ (<tspan font-size="43" dy="-22">o</tspan><tspan dy="22">)</tspan></text>
<text transform="translate(90,688) rotate(-90)" font-size="69.5" text-anchor="middle">Intensity (a.u)</text>
<text x="684.7" y="165" font-size="69.5" text-anchor="middle">C(002)</text>
<text x="1211.5" y="883" font-size="69.5" text-anchor="middle">C(100)</text>
<g font-size="55">
<text x="167.5" y="700.4">(iii)</text>
<text x="166.7" y="912.5">(ii)</text>
<text x="174.2" y="1080.8">(i)</text>
</g>
<g stroke-width="10" stroke-linecap="round">
<line x1="178.5" x2="244" y1="1233.5" y2="1233.5" stroke="#000"/>
<line x1="178.5" x2="244" y1="1288.7" y2="1288.7" stroke="#ff0000"/>
<line x1="178.5" x2="244" y1="1342.8" y2="1342.8" stroke="#00b0f0"/>
</g>
<g font-size="48">
<text x="251.2" y="1247.3">(i)</text>
<text x="251.2" y="1301.7">(ii)</text>
<text x="251.2" y="1356.7">(iii)</text>
</g>
<g font-size="47.3">
<text x="333.7" y="1244.3">Biochar : KOH = 1:1</text>
<text x="333.7" y="1300.8">Biochar: KOH = 1:2</text>
<text x="333.7" y="1358.3">Biochar : KOH = 1:3</text>
</g>
<rect x="1338.0" y="73.0" width="863.0" height="552.0" fill="#fefefe" stroke="#202020" stroke-width="4.7"/>
<path d="M1372.5,625.0 v-10.5 M1407.0,625.0 v-10.5 M1441.6,625.0 v-10.5 M1476.1,625.0 v-10.5 M1510.6,625.0 v-15 M1545.1,625.0 v-10.5 M1579.6,625.0 v-10.5 M1614.2,625.0 v-10.5 M1648.7,625.0 v-10.5 M1683.2,625.0 v-15 M1717.7,625.0 v-10.5 M1752.2,625.0 v-10.5 M1786.8,625.0 v-10.5 M1821.3,625.0 v-10.5 M1855.8,625.0 v-15 M1890.3,625.0 v-10.5 M1924.8,625.0 v-10.5 M1959.4,625.0 v-10.5 M1993.9,625.0 v-10.5 M2028.4,625.0 v-15 M2062.9,625.0 v-10.5 M2097.4,625.0 v-10.5 M2132.0,625.0 v-10.5 M2166.5,625.0 v-10.5" stroke="#202020" stroke-width="3.3" fill="none"/>
<g fill="none" stroke-linejoin="round" stroke-linecap="butt" stroke-width="3.8">
<path stroke="#00b0f0" stroke-width="4.6" d="M1338.0,166.7 L1342.0,166.0 L1346.0,165.2 L1350.0,164.3 L1354.0,163.3 L1358.0,162.1 L1362.0,160.7 L1366.0,159.2 L1370.0,157.6 L1374.0,155.8 L1378.0,154.0 L1382.0,152.2 L1386.0,150.4 L1390.0,148.7 L1394.0,147.1 L1398.0,145.6 L1402.0,144.0 L1406.0,142.6 L1410.0,141.2 L1414.0,139.8 L1418.0,138.5 L1422.0,137.2 L1426.0,135.9 L1430.0,134.8 L1434.0,133.7 L1438.0,132.8 L1442.0,132.1 L1446.0,131.5 L1450.0,131.1 L1454.0,130.7 L1458.0,130.4 L1462.0,130.3 L1466.0,130.2 L1470.0,130.2 L1474.0,130.3 L1478.0,130.5 L1482.0,130.7 L1486.0,131.1 L1490.0,131.6 L1494.0,132.2 L1498.0,133.1 L1502.0,134.2 L1506.0,135.6 L1510.0,137.2 L1514.0,139.0 L1518.0,140.9 L1522.0,142.9 L1526.0,145.0 L1530.0,147.3 L1534.0,149.8 L1538.0,152.4 L1542.0,155.1 L1546.0,158.0 L1550.0,161.1 L1554.0,164.3 L1558.0,167.7 L1562.0,171.2 L1566.0,174.9 L1570.0,178.6 L1574.0,182.5 L1578.0,186.4 L1582.0,190.5 L1586.0,194.6 L1590.0,198.9 L1594.0,203.3 L1598.0,208.0 L1602.0,212.8 L1606.0,217.8 L1610.0,223.1 L1614.0,228.5 L1618.0,234.0 L1622.0,239.7 L1626.0,245.5 L1630.0,251.5 L1634.0,257.6 L1638.0,263.8 L1642.0,270.2 L1646.0,276.7 L1650.0,283.3 L1654.0,290.0 L1658.0,296.5 L1662.0,302.8 L1666.0,309.0 L1670.0,315.1 L1674.0,321.1 L1678.0,327.1 L1682.0,333.1 L1686.0,339.1 L1690.0,345.1 L1694.0,351.1 L1698.0,356.9 L1702.0,362.6 L1706.0,368.1 L1710.0,373.5 L1714.0,378.8 L1718.0,384.0 L1722.0,389.1 L1726.0,394.1 L1730.0,398.8 L1734.0,403.3 L1738.0,407.4 L1742.0,411.2 L1746.0,414.7 L1750.0,417.7 L1754.0,420.3 L1758.0,422.4 L1762.0,424.1 L1766.0,425.2 L1770.0,426.0 L1774.0,426.3 L1778.0,426.3 L1782.0,426.2 L1786.0,425.9 L1790.0,425.6 L1794.0,425.2 L1798.0,424.9 L1802.0,424.7 L1806.0,424.6 L1810.0,424.6 L1814.0,424.7 L1818.0,424.9 L1822.0,424.9 L1826.0,425.0 L1830.0,425.0 L1834.0,425.0 L1838.0,425.0 L1842.0,425.0 L1846.0,425.0 L1850.0,425.0 L1854.0,425.0 L1858.0,425.0 L1862.0,425.0 L1866.0,425.0 L1870.0,425.0 L1874.0,425.0 L1878.0,425.0 L1882.0,425.0 L1886.0,425.0 L1890.0,425.0 L1894.0,425.0 L1898.0,425.0 L1902.0,425.0 L1906.0,425.0 L1910.0,425.0 L1914.0,425.0 L1918.0,425.0 L1922.0,425.0 L1926.0,425.0 L1930.0,425.0 L1934.0,425.0 L1938.0,425.0 L1942.0,425.0 L1946.0,425.0 L1950.0,425.0 L1954.0,425.0 L1958.0,425.0 L1962.0,425.0 L1966.0,425.0 L1970.0,425.0 L1974.0,425.0 L1978.0,425.0 L1982.0,425.0 L1986.0,425.0 L1990.0,425.0 L1994.0,425.0 L1998.0,425.0 L2002.0,425.0 L2006.0,425.0 L2010.0,425.0 L2014.0,425.0 L2018.0,425.0 L2022.0,425.0 L2026.0,425.0 L2030.0,425.0 L2034.0,425.0 L2038.0,425.0 L2042.0,425.0 L2046.0,425.0 L2050.0,425.0 L2054.0,425.0 L2058.0,425.0 L2062.0,425.0 L2066.0,425.0 L2070.0,425.0 L2074.0,425.0 L2078.0,425.0 L2082.0,425.0 L2086.0,425.0 L2090.0,425.0 L2094.0,425.0 L2098.0,425.0 L2102.0,425.0 L2106.0,425.0 L2110.0,425.0 L2114.0,425.0 L2118.0,425.0 L2122.0,425.0 L2126.0,425.0 L2130.0,425.0 L2134.0,425.0 L2138.0,425.0 L2142.0,425.0 L2146.0,425.0 L2150.0,425.0 L2154.0,425.0 L2158.0,425.0 L2162.0,425.0 L2166.0,425.0 L2170.0,425.0 L2174.0,425.0 L2178.0,425.0 L2182.0,425.0 L2186.0,425.0 L2190.0,425.0 L2194.0,425.0 L2198.0,425.0 L2201.0,425.0"/>
<path stroke="#111" d="M1338.0,296.7 L1342.0,296.7 L1346.0,296.7 L1350.0,296.6 L1354.0,296.3 L1358.0,295.6 L1362.0,294.5 L1366.0,293.3 L1370.0,291.9 L1374.0,290.4 L1378.0,288.8 L1382.0,287.1 L1386.0,285.3 L1390.0,283.6 L1394.0,281.9 L1398.0,280.1 L1402.0,278.4 L1406.0,276.6 L1410.0,274.7 L1414.0,272.8 L1418.0,270.9 L1422.0,268.9 L1426.0,266.9 L1430.0,265.0 L1434.0,263.1 L1438.0,261.3 L1442.0,259.6 L1446.0,258.0 L1450.0,256.6 L1454.0,255.2 L1458.0,254.1 L1462.0,253.0 L1466.0,252.1 L1470.0,251.3 L1474.0,250.6 L1478.0,250.0 L1482.0,249.6 L1486.0,249.2 L1490.0,248.9 L1494.0,248.7 L1498.0,248.6 L1502.0,248.5 L1506.0,248.6 L1510.0,248.8 L1514.0,249.3 L1518.0,249.9 L1522.0,250.8 L1526.0,251.8 L1530.0,253.0 L1534.0,254.3 L1538.0,255.9 L1542.0,257.7 L1546.0,259.6 L1550.0,261.7 L1554.0,263.9 L1558.0,266.2 L1562.0,268.8 L1566.0,271.4 L1570.0,274.2 L1574.0,277.2 L1578.0,280.3 L1582.0,283.5 L1586.0,286.9 L1590.0,290.4 L1594.0,294.1 L1598.0,298.0 L1602.0,302.1 L1606.0,306.3 L1610.0,310.8 L1614.0,315.6 L1618.0,320.5 L1622.0,325.7 L1626.0,330.9 L1630.0,336.4 L1634.0,341.9 L1638.0,347.5 L1642.0,353.3 L1646.0,359.1 L1650.0,365.0 L1654.0,370.9 L1658.0,376.9 L1662.0,382.9 L1666.0,388.9 L1670.0,395.0 L1674.0,401.0 L1678.0,407.0 L1682.0,412.9 L1686.0,418.8 L1690.0,424.6 L1694.0,430.4 L1698.0,436.0 L1702.0,441.7 L1706.0,447.4 L1710.0,453.1 L1714.0,458.8 L1718.0,464.5 L1722.0,470.0 L1726.0,475.4 L1730.0,480.6 L1734.0,485.6 L1738.0,490.4 L1742.0,495.0 L1746.0,499.3 L1750.0,503.3 L1754.0,506.9 L1758.0,510.0 L1762.0,512.5 L1766.0,514.4 L1770.0,515.7 L1774.0,516.5 L1778.0,516.9 L1782.0,517.0 L1786.0,516.9 L1790.0,516.9 L1794.0,516.8 L1798.0,516.8 L1802.0,516.9 L1806.0,517.0 L1810.0,517.1 L1814.0,517.2 L1818.0,517.2 L1822.0,517.3 L1826.0,517.3 L1830.0,517.3 L1834.0,517.3 L1838.0,517.3 L1842.0,517.3 L1846.0,517.3 L1850.0,517.3 L1854.0,517.3 L1858.0,517.3 L1862.0,517.3 L1866.0,517.3 L1870.0,517.3 L1874.0,517.3 L1878.0,517.3 L1882.0,517.3 L1886.0,517.3 L1890.0,517.3 L1894.0,517.3 L1898.0,517.3 L1902.0,517.3 L1906.0,517.3 L1910.0,517.3 L1914.0,517.3 L1918.0,517.3 L1922.0,517.3 L1926.0,517.3 L1930.0,517.3 L1934.0,517.3 L1938.0,517.3 L1942.0,517.3 L1946.0,517.3 L1950.0,517.3 L1954.0,517.3 L1958.0,517.3 L1962.0,517.3 L1966.0,517.3 L1970.0,517.3 L1974.0,517.3 L1978.0,517.3 L1982.0,517.3 L1986.0,517.3 L1990.0,517.3 L1994.0,517.3 L1998.0,517.3 L2002.0,517.3 L2006.0,517.3 L2010.0,517.3 L2014.0,517.3 L2018.0,517.3 L2022.0,517.3 L2026.0,517.3 L2030.0,517.3 L2034.0,517.3 L2038.0,517.3 L2042.0,517.3 L2046.0,517.3 L2050.0,517.3 L2054.0,517.3 L2058.0,517.3 L2062.0,517.3 L2066.0,517.3 L2070.0,517.3 L2074.0,517.3 L2078.0,517.3 L2082.0,517.3 L2086.0,517.3 L2090.0,517.3 L2094.0,517.3 L2098.0,517.3 L2102.0,517.3 L2106.0,517.3 L2110.0,517.3 L2114.0,517.3 L2118.0,517.3 L2122.0,517.3 L2126.0,517.3 L2130.0,517.3 L2134.0,517.3 L2138.0,517.3 L2142.0,517.3 L2146.0,517.3 L2150.0,517.3 L2154.0,517.3 L2158.0,517.3 L2162.0,517.3 L2166.0,517.3 L2170.0,517.3 L2174.0,517.3 L2178.0,517.3 L2182.0,517.3 L2186.0,517.3 L2190.0,517.3 L2194.0,517.3 L2198.0,517.3 L2201.0,517.3"/>
<path stroke="#ff0000" d="M1338.0,361.0 L1342.0,360.0 L1346.0,359.0 L1350.0,357.9 L1354.0,356.8 L1358.0,355.5 L1362.0,354.2 L1366.0,352.8 L1370.0,351.4 L1374.0,349.9 L1378.0,348.4 L1382.0,346.8 L1386.0,345.3 L1390.0,343.7 L1394.0,342.2 L1398.0,340.7 L1402.0,339.2 L1406.0,337.7 L1410.0,336.2 L1414.0,334.8 L1418.0,333.4 L1422.0,332.1 L1426.0,330.8 L1430.0,329.5 L1434.0,328.4 L1438.0,327.3 L1442.0,326.3 L1446.0,325.4 L1450.0,324.6 L1454.0,323.9 L1458.0,323.4 L1462.0,323.0 L1466.0,322.8 L1470.0,322.7 L1474.0,322.7 L1478.0,322.7 L1482.0,322.8 L1486.0,322.9 L1490.0,323.2 L1494.0,323.6 L1498.0,324.2 L1502.0,325.0 L1506.0,325.9 L1510.0,327.0 L1514.0,328.2 L1518.0,329.7 L1522.0,331.3 L1526.0,333.2 L1530.0,335.2 L1534.0,337.3 L1538.0,339.6 L1542.0,342.1 L1546.0,344.8 L1550.0,347.6 L1554.0,350.5 L1558.0,353.6 L1562.0,356.9 L1566.0,360.3 L1570.0,363.8 L1574.0,367.5 L1578.0,371.4 L1582.0,375.4 L1586.0,379.5 L1590.0,383.7 L1594.0,388.1 L1598.0,392.6 L1602.0,397.2 L1606.0,402.0 L1610.0,406.9 L1614.0,411.9 L1618.0,417.1 L1622.0,422.5 L1626.0,427.9 L1630.0,433.5 L1634.0,439.3 L1638.0,445.2 L1642.0,451.2 L1646.0,457.2 L1650.0,463.3 L1654.0,469.3 L1658.0,475.3 L1662.0,481.3 L1666.0,487.3 L1670.0,493.3 L1674.0,499.3 L1678.0,505.3 L1682.0,511.3 L1686.0,517.3 L1690.0,523.3 L1694.0,529.4 L1698.0,535.4 L1702.0,541.4 L1706.0,547.3 L1710.0,553.2 L1714.0,559.0 L1718.0,564.7 L1722.0,570.1 L1726.0,575.4 L1730.0,580.3 L1734.0,585.0 L1738.0,589.3 L1742.0,593.2 L1746.0,596.8 L1750.0,600.0 L1754.0,602.7 L1758.0,605.1 L1762.0,606.9 L1766.0,608.3 L1770.0,609.3 L1774.0,610.0 L1778.0,610.3 L1782.0,610.4 L1786.0,610.4 L1790.0,610.3 L1794.0,610.1 L1798.0,609.8 L1802.0,609.6 L1806.0,609.6 L1810.0,609.6 L1814.0,609.7 L1818.0,609.9 L1822.0,609.9 L1826.0,610.0 L1830.0,610.0 L1834.0,610.0 L1838.0,610.0 L1842.0,610.0 L1846.0,610.0 L1850.0,610.0 L1854.0,610.0 L1858.0,610.0 L1862.0,610.0 L1866.0,610.0 L1870.0,610.0 L1874.0,610.0 L1878.0,610.0 L1882.0,610.0 L1886.0,610.0 L1890.0,610.0 L1894.0,610.0 L1898.0,610.0 L1902.0,610.0 L1906.0,610.0 L1910.0,610.0 L1914.0,610.0 L1918.0,610.0 L1922.0,610.0 L1926.0,610.0 L1930.0,610.0 L1934.0,610.0 L1938.0,610.0 L1942.0,610.0 L1946.0,610.0 L1950.0,610.0 L1954.0,610.0 L1958.0,610.0 L1962.0,610.0 L1966.0,610.0 L1970.0,610.0 L1974.0,610.0 L1978.0,610.0 L1982.0,610.0 L1986.0,610.0 L1990.0,610.0 L1994.0,610.0 L1998.0,610.0 L2002.0,610.0 L2006.0,610.0 L2010.0,610.0 L2014.0,610.0 L2018.0,610.0 L2022.0,610.0 L2026.0,610.0 L2030.0,610.0 L2034.0,610.0 L2038.0,610.0 L2042.0,610.0 L2046.0,610.0 L2050.0,610.0 L2054.0,610.0 L2058.0,610.0 L2062.0,610.0 L2066.0,610.0 L2070.0,610.0 L2074.0,610.0 L2078.0,610.0 L2082.0,610.0 L2086.0,610.0 L2090.0,610.0 L2094.0,610.0 L2098.0,610.0 L2102.0,610.0 L2106.0,610.0 L2110.0,610.0 L2114.0,610.0 L2118.0,610.0 L2122.0,610.0 L2126.0,610.0 L2130.0,610.0 L2134.0,610.0 L2138.0,610.0 L2142.0,610.0 L2146.0,610.0 L2150.0,610.0 L2154.0,610.0 L2158.0,610.0 L2162.0,610.0 L2166.0,610.0 L2170.0,610.0 L2174.0,610.0 L2178.0,610.0 L2182.0,610.0 L2186.0,610.0 L2190.0,610.0 L2194.0,610.0 L2198.0,610.0 L2201.0,610.0"/>
</g>
<g font-size="48.3" text-anchor="middle">
<text x="1338.0" y="696.5">0.5</text>
<text x="1510.6" y="696.5">0.75</text>
<text x="1683.2" y="696.5">1</text>
<text x="1855.8" y="696.5">1.25</text>
<text x="2028.4" y="696.5">1.5</text>
<text x="2201.0" y="696.5">1.75</text>
</g>
<text x="1769.5" y="755.5" font-size="48.3" text-anchor="middle">2θ (<tspan font-size="30" dy="-15">o</tspan><tspan dy="15">)</tspan></text>
<text transform="translate(1314,401.5) rotate(-90)" font-size="48" text-anchor="middle">Intensity (a.u)</text>
</svg></body></html>
